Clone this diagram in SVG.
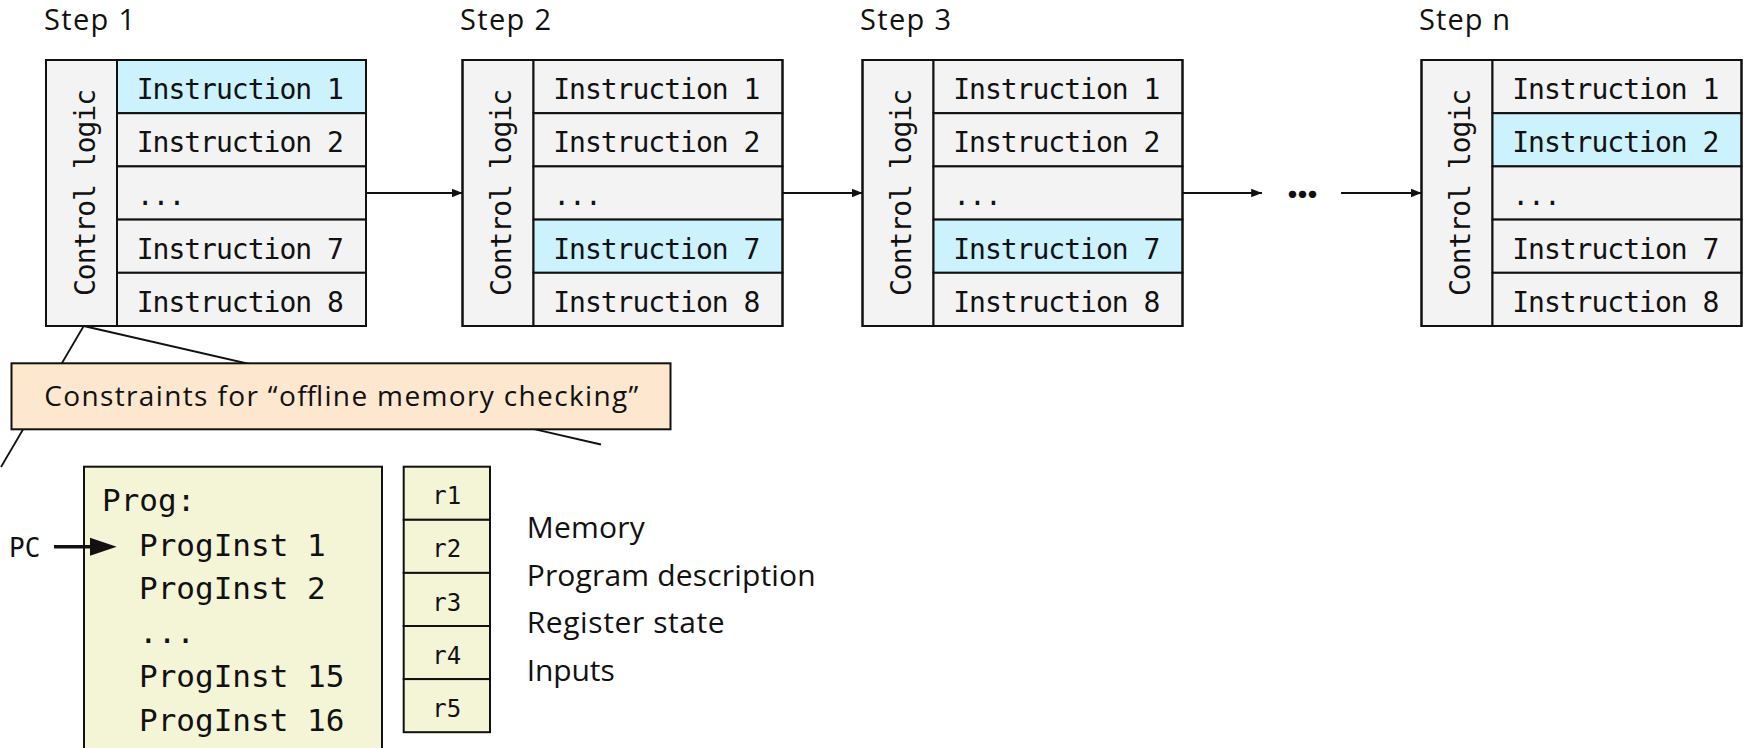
<svg xmlns="http://www.w3.org/2000/svg" width="1750" height="748" viewBox="0 0 1750 748">
  <style>
    .bg { fill: #ffffff; }
    .cell { fill: #f3f3f3; stroke: #111; stroke-width: 2; }
    .hot { fill: #ccf2fe; stroke: #111; stroke-width: 2; }
    .frame { fill: none; stroke: #111; stroke-width: 2; }
    .mono { font-family: "DejaVu Sans Mono", "Liberation Mono", monospace; fill: #111; }
    .instr { font-size: 28px; letter-spacing: -1px; }
    .sans { font-family: "Open Sans", "Noto Sans", "Liberation Sans", sans-serif; fill: #111; }
    .step { font-size: 29px; }
    .wire { stroke: #111; stroke-width: 1.8; fill: none; }
    .arrow { stroke: #111; stroke-width: 1.8; fill: none; marker-end: url(#tip); }
    .callout { fill: #fde7cf; stroke: #111; stroke-width: 2; }
    .prog { fill: #f4f5d7; stroke: #111; stroke-width: 2; }
  </style>
  <defs>
    <marker id="tip" viewBox="0 0 10 10" refX="10" refY="5" markerWidth="6" markerHeight="6" markerUnits="strokeWidth" orient="auto">
      <path d="M0,1 L10,5 L0,9 Z" fill="#111"/>
    </marker>
    <!-- one execution step: control logic column plus instruction rows -->
    <g id="stepFrame">
      <rect class="cell" x="0" y="0" width="71" height="266"/>
      <text class="mono instr" transform="translate(48.5,133) rotate(-90)" text-anchor="middle">Control logic</text>
    </g>
  </defs>

  <rect class="bg" x="0" y="0" width="1750" height="748"/>

  <!-- step labels -->
  <text class="sans step" x="44" y="30" textLength="91">Step 1</text>
  <text class="sans step" x="460" y="30" textLength="91">Step 2</text>
  <text class="sans step" x="860" y="30" textLength="91">Step 3</text>
  <text class="sans step" x="1419" y="30" textLength="91">Step n</text>

  <!-- links between the zoom-in callout and step 1 -->
  <g id="callout-lines">
    <line class="wire" x1="83.7" y1="326" x2="1" y2="467"/>
    <line class="wire" x1="83.7" y1="326" x2="601" y2="444.5"/>
  </g>

  <g id="step1" transform="translate(46,60)">
    <use href="#stepFrame"/>
    <rect class="hot" x="71" y="0" width="249" height="53.2"/>
    <rect class="cell" x="71" y="53.2" width="249" height="53.2"/>
    <rect class="cell" x="71" y="106.4" width="249" height="53.2"/>
    <rect class="cell" x="71" y="159.6" width="249" height="53.2"/>
    <rect class="cell" x="71" y="212.8" width="249" height="53.2"/>
    <rect class="frame" x="0" y="0" width="320" height="266"/>
    <text class="mono instr" x="90.7" y="39">Instruction 1</text>
    <text class="mono instr" x="90.7" y="92.2">Instruction 2</text>
    <text class="mono instr" x="90.7" y="145.4">...</text>
    <text class="mono instr" x="90.7" y="198.6">Instruction 7</text>
    <text class="mono instr" x="90.7" y="251.8">Instruction 8</text>
  </g>

  <g id="step2" transform="translate(462.5,60)">
    <use href="#stepFrame"/>
    <rect class="cell" x="71" y="0" width="249" height="53.2"/>
    <rect class="cell" x="71" y="53.2" width="249" height="53.2"/>
    <rect class="cell" x="71" y="106.4" width="249" height="53.2"/>
    <rect class="hot" x="71" y="159.6" width="249" height="53.2"/>
    <rect class="cell" x="71" y="212.8" width="249" height="53.2"/>
    <rect class="frame" x="0" y="0" width="320" height="266"/>
    <text class="mono instr" x="90.7" y="39">Instruction 1</text>
    <text class="mono instr" x="90.7" y="92.2">Instruction 2</text>
    <text class="mono instr" x="90.7" y="145.4">...</text>
    <text class="mono instr" x="90.7" y="198.6">Instruction 7</text>
    <text class="mono instr" x="90.7" y="251.8">Instruction 8</text>
  </g>

  <g id="step3" transform="translate(862.5,60)">
    <use href="#stepFrame"/>
    <rect class="cell" x="71" y="0" width="249" height="53.2"/>
    <rect class="cell" x="71" y="53.2" width="249" height="53.2"/>
    <rect class="cell" x="71" y="106.4" width="249" height="53.2"/>
    <rect class="hot" x="71" y="159.6" width="249" height="53.2"/>
    <rect class="cell" x="71" y="212.8" width="249" height="53.2"/>
    <rect class="frame" x="0" y="0" width="320" height="266"/>
    <text class="mono instr" x="90.7" y="39">Instruction 1</text>
    <text class="mono instr" x="90.7" y="92.2">Instruction 2</text>
    <text class="mono instr" x="90.7" y="145.4">...</text>
    <text class="mono instr" x="90.7" y="198.6">Instruction 7</text>
    <text class="mono instr" x="90.7" y="251.8">Instruction 8</text>
  </g>

  <g id="stepN" transform="translate(1421.5,60)">
    <use href="#stepFrame"/>
    <rect class="cell" x="71" y="0" width="249" height="53.2"/>
    <rect class="hot" x="71" y="53.2" width="249" height="53.2"/>
    <rect class="cell" x="71" y="106.4" width="249" height="53.2"/>
    <rect class="cell" x="71" y="159.6" width="249" height="53.2"/>
    <rect class="cell" x="71" y="212.8" width="249" height="53.2"/>
    <rect class="frame" x="0" y="0" width="320" height="266"/>
    <text class="mono instr" x="90.7" y="39">Instruction 1</text>
    <text class="mono instr" x="90.7" y="92.2">Instruction 2</text>
    <text class="mono instr" x="90.7" y="145.4">...</text>
    <text class="mono instr" x="90.7" y="198.6">Instruction 7</text>
    <text class="mono instr" x="90.7" y="251.8">Instruction 8</text>
  </g>

  <!-- step-to-step connectors -->
  <g id="connectors">
    <line class="arrow" x1="366" y1="193" x2="462.5" y2="193"/>
    <line class="arrow" x1="782.5" y1="193" x2="862.5" y2="193"/>
    <line class="arrow" x1="1182.5" y1="193" x2="1262" y2="193"/>
    <line class="arrow" x1="1341" y1="193" x2="1421.5" y2="193"/>
  </g>
  <g id="gap">
    <text x="1302" y="197.5" font-family="Lato, sans-serif" font-size="46" font-weight="900" letter-spacing="-1" text-anchor="middle" fill="#111">...</text>
  </g>

  <g id="constraints">
    <rect class="callout" x="11.5" y="363.3" width="659" height="66"/>
    <text class="sans" x="44.3" y="405.7" font-size="28" textLength="594">Constraints for “offline memory checking”</text>
  </g>

  <!-- program listing with program counter -->
  <g id="program">
    <rect class="prog" x="84" y="466.7" width="298" height="300"/>
    <g class="mono" font-size="31">
      <text x="102" y="511">Prog:</text>
      <text x="139" y="555.7">ProgInst 1</text>
      <text x="139" y="599.3">ProgInst 2</text>
      <text x="139" y="642.7">...</text>
      <text x="139" y="686.7">ProgInst 15</text>
      <text x="139" y="730.7">ProgInst 16</text>
    </g>
  </g>

  <g id="pc">
    <text class="mono" x="9" y="557.3" font-size="26">PC</text>
    <line x1="54" y1="546.7" x2="92" y2="546.7" stroke="#111" stroke-width="3.5"/>
    <path d="M90,537.7 L116.7,546.7 L90,555.7 Z" fill="#111"/>
  </g>

  <!-- register file -->
  <g id="registers">
    <rect class="prog" x="403.7" y="466.7" width="86.3" height="53.1"/>
    <rect class="prog" x="403.7" y="519.8" width="86.3" height="53.1"/>
    <rect class="prog" x="403.7" y="572.9" width="86.3" height="53.1"/>
    <rect class="prog" x="403.7" y="626" width="86.3" height="53.1"/>
    <rect class="prog" x="403.7" y="679.1" width="86.3" height="53.1"/>
    <g class="mono" font-size="24" text-anchor="middle">
      <text x="446.8" y="504.3">r1</text>
      <text x="446.8" y="557.4">r2</text>
      <text x="446.8" y="610.5">r3</text>
      <text x="446.8" y="663.6">r4</text>
      <text x="446.8" y="716.7">r5</text>
    </g>
  </g>

  <g id="legend" class="sans" font-size="30">
    <text x="526.7" y="537.7" textLength="118">Memory</text>
    <text x="526.7" y="585.7" textLength="289">Program description</text>
    <text x="526.7" y="633.3" textLength="198">Register state</text>
    <text x="526.7" y="680.7" textLength="88">Inputs</text>
  </g>
</svg>
